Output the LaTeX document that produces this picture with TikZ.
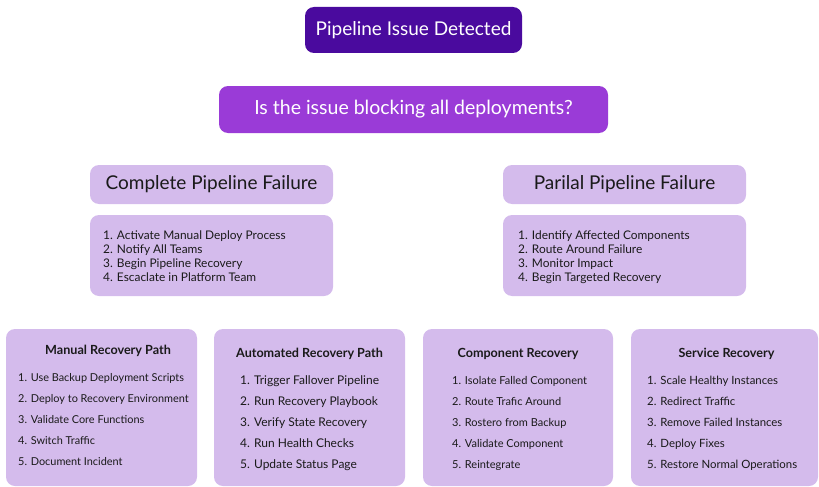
\documentclass[tikz,border=0pt]{standalone}
\usepackage{fontspec}
\setmainfont{Lato}
\definecolor{deep}{HTML}{4A0A9E}
\definecolor{mid}{HTML}{9A3BD7}
\definecolor{pale}{HTML}{D4BBEC}
\definecolor{ink}{HTML}{1A1A1A}
\begin{document}
\begin{tikzpicture}[x=1pt,y=-1pt,
  box/.style={rounded corners=9pt, inner sep=0pt, draw=none},
  darkbox/.style={box, fill=deep, text=white, font=\fontsize{19}{22}\selectfont},
  midbox/.style={box, fill=mid, text=white, font=\fontsize{19.5}{22}\selectfont},
  palebox/.style={box, fill=pale, text=ink},
  head/.style={font=\fontsize{19}{22}\selectfont, text=ink},
  % multi-line lists are placed by the baseline of their last line
  steps/.style={align=left, inner sep=0pt, anchor=base west, text=ink, font=\fontsize{11.9}{14}\selectfont},
  pathtitle/.style={inner sep=0pt, text=ink, font=\bfseries\fontsize{12.6}{15}\selectfont},
  pathsteps/.style={align=left, inner sep=0pt, anchor=base west, text=ink},
  fs/.style={font=\fontsize{#1}{21}\selectfont}
]
\useasboundingbox (0,0) rectangle (819,487);

% top of the decision flow
\node[darkbox, minimum width=217pt, minimum height=46pt] (detected) at (413.5,30) {Pipeline Issue Detected};
\node[midbox, minimum width=389pt, minimum height=47pt] (question) at (413.5,109.5) {Is the issue blocking all deployments?};

% the two failure branches
\node[palebox, head, minimum width=243pt, minimum height=39pt] (complete) at (211.5,184.5) {Complete Pipeline Failure};
\node[palebox, minimum width=243pt, minimum height=81pt] (completebox) at (211.5,255.5) {};
\node[steps] (completesteps) at (103,281) {1. Activate Manual Deploy Process\\2. Notify All Teams\\3. Begin Pipeline Recovery\\4. Escaclate in Platform Team};

\node[palebox, head, minimum width=243pt, minimum height=39pt] (partial) at (624.5,184.5) {Parilal Pipeline Failure};
\node[palebox, minimum width=243pt, minimum height=81pt] (partialbox) at (624.5,255.5) {};
\node[steps] (partialsteps) at (518,281) {1. Identify Affected Components\\2. Route Around Failure\\3. Monitor Impact\\4. Begin Targeted Recovery};

% recovery paths
\node[palebox, minimum width=191pt, minimum height=157pt] (manual) at (101.5,407.5) {};
\node[pathtitle] (manualtitle) at (108,351) {Manual Recovery Path};
\node[pathsteps, fs=10.9] (manualsteps) at (18,465) {1. Use Backup Deployment Scripts\\2. Deploy to Recovery Environment\\3. Validate Core Functions\\4. Switch Traffic\\5. Document Incident};

\node[palebox, minimum width=191pt, minimum height=157pt] (auto) at (309.5,407.5) {};
\node[pathtitle] (autotitle) at (309.5,354) {Automated Recovery Path};
\node[pathsteps, fs=12] (autosteps) at (240,468) {1. Trigger Fallover Pipeline\\2. Run Recovery Playbook\\3. Verify State Recovery\\4. Run Health Checks\\5. Update Status Page};

\node[palebox, minimum width=190pt, minimum height=157pt] (component) at (518,407.5) {};
\node[pathtitle] (componenttitle) at (518,354) {Component Recovery};
\node[pathsteps, fs=11] (componentsteps) at (452,468) {1. Isolate Falled Component\\2. Route Trafic Around\\3. Rostero from Backup\\4. Validate Component\\5. Reintegrate};

\node[palebox, minimum width=187pt, minimum height=157pt] (service) at (724.5,407.5) {};
\node[pathtitle] (servicetitle) at (726.5,354) {Service Recovery};
\node[pathsteps, fs=11.4] (servicesteps) at (647,468) {1. Scale Healthy Instances\\2. Redirect Traffic\\3. Remove Failed Instances\\4. Deploy Fixes\\5. Restore Normal Operations};
\end{tikzpicture}
\end{document}
